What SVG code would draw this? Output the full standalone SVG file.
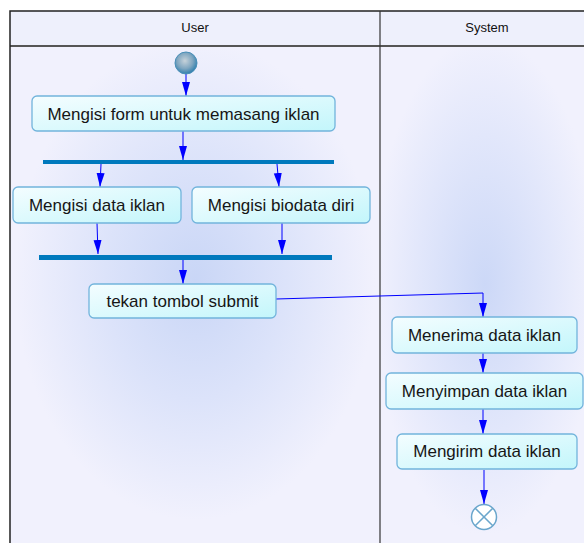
<svg xmlns="http://www.w3.org/2000/svg" width="584" height="543" viewBox="0 0 584 543">
<defs>
<radialGradient id="laneU" cx="195" cy="280" r="240" gradientUnits="userSpaceOnUse" gradientTransform="translate(195 280) scale(0.75 1) translate(-195 -280)">
<stop offset="0" stop-color="#c9d6f6"/>
<stop offset="0.5" stop-color="#dce3fa"/>
<stop offset="1" stop-color="#f1f1fd"/>
</radialGradient>
<radialGradient id="laneS" cx="485" cy="285" r="250" gradientUnits="userSpaceOnUse" gradientTransform="translate(485 285) scale(0.45 1) translate(-485 -285)">
<stop offset="0" stop-color="#ccd8f7"/>
<stop offset="0.6" stop-color="#e2e7fb"/>
<stop offset="1" stop-color="#f1f1fd"/>
</radialGradient>
<linearGradient id="boxG" x1="0" y1="0" x2="1" y2="1">
<stop offset="0" stop-color="#f4fdff"/>
<stop offset="1" stop-color="#c3f6fb"/>
</linearGradient>
<radialGradient id="startG" cx="0.45" cy="0.4" r="0.6">
<stop offset="0" stop-color="#c6d2da"/>
<stop offset="0.6" stop-color="#7fa6c0"/>
<stop offset="1" stop-color="#2f7fae"/>
</radialGradient>
<marker id="arr" markerUnits="userSpaceOnUse" markerWidth="16" markerHeight="10" refX="14" refY="5" orient="auto">
<path d="M0,1 L14,5 L0,9 z" fill="#0000ff"/>
</marker>
<style>
.box{fill:url(#boxG);stroke:#72b4dc;stroke-width:1.3}
.lbl{font-family:"Liberation Sans",Arial,sans-serif;font-size:17px;fill:#161616;text-anchor:middle}
.hdr{font-family:"Liberation Sans",Arial,sans-serif;font-size:13px;fill:#111;text-anchor:middle}
.bar{fill:#0079bd}
.con{fill:none;stroke:#0000ff;stroke-width:1;marker-end:url(#arr)}
</style>
</defs>
<rect x="0" y="0" width="584" height="543" fill="#ffffff"/>
<g id="lanes">
<rect x="10" y="46" width="370" height="510" fill="url(#laneU)"/>
<rect x="380" y="46" width="220" height="510" fill="url(#laneS)"/>
<rect x="10" y="11" width="590" height="35" fill="#eef0fc"/>
<line x1="10" y1="46" x2="600" y2="46" stroke="#555" stroke-width="2"/>
<rect x="10" y="11" width="590" height="545" fill="none" stroke="#222" stroke-width="1.5"/>
<line x1="380" y1="11" x2="380" y2="556" stroke="#333" stroke-width="1.2"/>
<text class="hdr" x="195" y="32">User</text>
<text class="hdr" x="487" y="32">System</text>
</g>
<g id="connectors">
<line class="con" x1="186" y1="74" x2="186" y2="96"/>
<line class="con" x1="183" y1="131" x2="183" y2="160"/>
<line class="con" x1="101" y1="164" x2="100" y2="187"/>
<line class="con" x1="277" y1="164" x2="279" y2="187"/>
<line class="con" x1="97" y1="223" x2="98" y2="254"/>
<line class="con" x1="282" y1="223" x2="282" y2="254"/>
<line class="con" x1="183" y1="260" x2="183" y2="284"/>
<polyline class="con" points="276,299 483,293 483,317"/>
<line class="con" x1="483" y1="353" x2="483" y2="373"/>
<line class="con" x1="483" y1="409" x2="483" y2="434"/>
<line class="con" x1="484" y1="470" x2="484" y2="504"/>
</g>
<g id="start"><circle cx="186" cy="63" r="11" fill="url(#startG)" stroke="#4a8fb8" stroke-width="1"/></g>
<g id="n1"><rect class="box" x="32" y="96" width="303" height="35" rx="5"/><text class="lbl" x="183.5" y="119.5">Mengisi form untuk memasang iklan</text></g>
<g id="fork"><rect class="bar" x="43" y="160" width="291" height="4"/></g>
<g id="n2"><rect class="box" x="13" y="187" width="168" height="36" rx="5"/><text class="lbl" x="97" y="211">Mengisi data iklan</text></g>
<g id="n3"><rect class="box" x="192" y="187" width="178" height="36" rx="5"/><text class="lbl" x="281" y="211">Mengisi biodata diri</text></g>
<g id="join"><rect class="bar" x="39" y="255" width="293" height="5"/></g>
<g id="n4"><rect class="box" x="89" y="284" width="187" height="34" rx="5"/><text class="lbl" x="182.5" y="307">tekan tombol submit</text></g>
<g id="n5"><rect class="box" x="392" y="317" width="185" height="36" rx="5"/><text class="lbl" x="484.5" y="341">Menerima data iklan</text></g>
<g id="n6"><rect class="box" x="386" y="373" width="197" height="36" rx="5"/><text class="lbl" x="484.5" y="397">Menyimpan data iklan</text></g>
<g id="n7"><rect class="box" x="397" y="434" width="180" height="35" rx="5"/><text class="lbl" x="487" y="457">Mengirim data iklan</text></g>
<g id="end"><circle cx="484" cy="517" r="12.5" fill="#ffffff" stroke="#6aa6cc" stroke-width="1.5"/><path d="M475.2,508.2 L492.8,525.8 M492.8,508.2 L475.2,525.8" stroke="#6aa6cc" stroke-width="1.5"/></g>
</svg>
